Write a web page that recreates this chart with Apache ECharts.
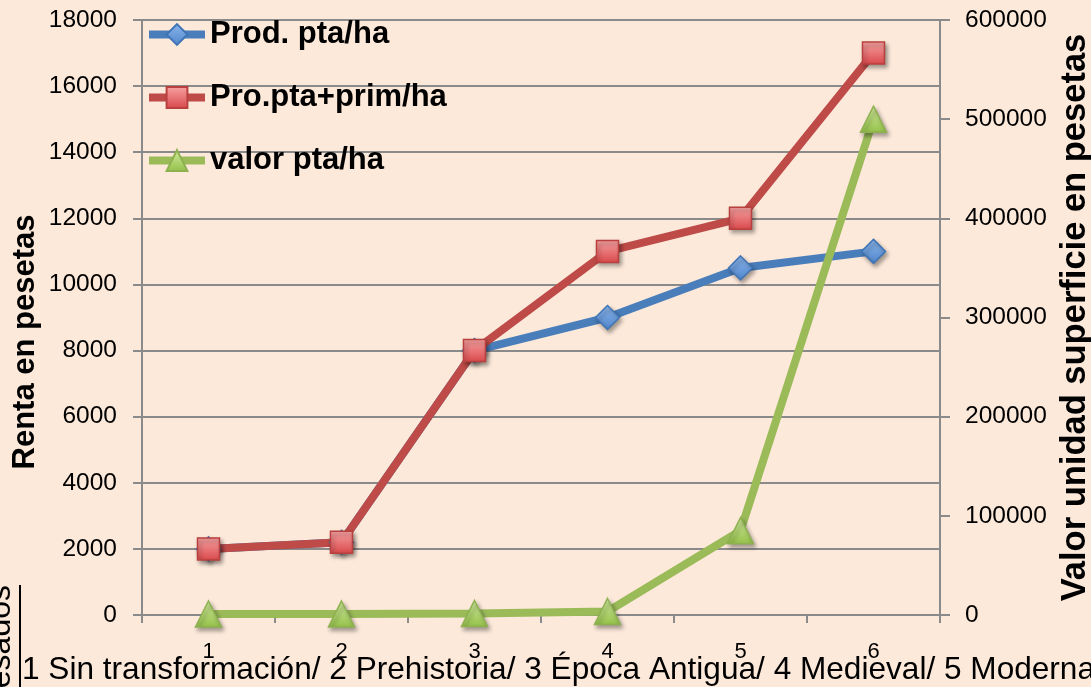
<!DOCTYPE html>
<html>
<head>
<meta charset="utf-8">
<script src="https://cdn.jsdelivr.net/npm/echarts@6/dist/echarts.min.js"></script>
<style>
html,body{margin:0;padding:0;background:#FCE9DA;}
#c{width:1091px;height:687px;}
</style>
</head>
<body>
<div id="c"></div>
<script>
const categories = ['1', '2', '3', '4', '5', '6'];
const prodPta = [2000, 2200, 8000, 9000, 10500, 11000];
const prodPrim = [2000, 2200, 8000, 11000, 12000, 17000];
const valorPta = [1000, 1000, 1500, 3500, 85000, 500000];
const seriesNames = ['Prod. pta/ha', 'Pro.pta+prim/ha', 'valor pta/ha'];
const leftTitle = 'Renta en pesetas';
const rightTitle = 'Valor unidad superficie en pesetas';
const bottomNote = '1 Sin transformación/ 2 Prehistoria/ 3 Época Antigua/ 4 Medieval/ 5 Moderna';
const sideNote = 'pesados';

const chart = echarts.init(document.getElementById('c'));
const axisGray = '#8A8A8A';
const tickFont = {fontFamily: 'Liberation Sans', fontSize: 24.5, color: '#000', formatter: v => String(v)};
const shadow = {shadowBlur: 4, shadowOffsetX: 2, shadowOffsetY: 3, shadowColor: 'rgba(0,0,0,0.35)'};

function grad(top, bottom) {
  return new echarts.graphic.LinearGradient(0, 0, 0, 1, [{offset: 0, color: top}, {offset: 1, color: bottom}]);
}

chart.setOption({
  backgroundColor: '#FCE9DA',
  animation: false,
  grid: {left: 142, right: 151, top: 20, bottom: 72, containLabel: false, outerBoundsMode: 'none'},
  legend: {
    orient: 'vertical', left: 145, top: 19, padding: 0,
    itemWidth: 56, itemHeight: 26, itemGap: 32,
    lineStyle: {width: 8},
    textStyle: {fontFamily: 'Liberation Sans', fontWeight: 'bold', fontSize: 31, color: '#000'},
    data: seriesNames
  },
  xAxis: {
    type: 'category', data: categories, boundaryGap: true,
    axisLine: {lineStyle: {color: axisGray, width: 2}},
    axisTick: {show: true, length: 8, lineStyle: {color: axisGray, width: 2}},
    axisLabel: {fontFamily: 'Liberation Sans', fontSize: 22, color: '#000', margin: 26}
  },
  yAxis: [{
    type: 'value', min: 0, max: 18000, interval: 2000,
    axisLine: {show: true, lineStyle: {color: axisGray, width: 2}},
    axisTick: {show: true, length: 9, lineStyle: {color: axisGray, width: 2}},
    axisLabel: Object.assign({margin: 25}, tickFont),
    splitLine: {show: true, lineStyle: {color: axisGray, width: 2}}
  }, {
    type: 'value', min: 0, max: 600000, interval: 100000, position: 'right',
    name: rightTitle, nameLocation: 'middle', nameGap: 116,
    nameTextStyle: {fontFamily: 'Liberation Sans', fontWeight: 'bold', fontSize: 34.5, color: '#000'},
    axisLine: {show: true, lineStyle: {color: axisGray, width: 2}},
    axisTick: {show: true, length: 10, lineStyle: {color: axisGray, width: 2}},
    axisLabel: Object.assign({margin: 25}, tickFont),
    splitLine: {show: false}
  }],
  series: [{
    name: seriesNames[0], type: 'line', yAxisIndex: 0, data: prodPta,
    symbol: 'diamond', symbolSize: 24,
    lineStyle: {color: '#4A7EBB', width: 8},
    itemStyle: Object.assign({color: grad('#8DB6EC', '#4F86CC'), borderColor: '#3F74B5', borderWidth: 1.5}, shadow)
  }, {
    name: seriesNames[1], type: 'line', yAxisIndex: 0, data: prodPrim,
    symbol: 'rect', symbolSize: 22,
    lineStyle: {color: '#BE4B48', width: 8},
    itemStyle: Object.assign({color: grad('#F7A3A3', '#D9474A'), borderColor: '#B8403E', borderWidth: 1.5}, shadow)
  }, {
    name: seriesNames[2], type: 'line', yAxisIndex: 1, data: valorPta,
    symbol: 'triangle', symbolSize: 26,
    lineStyle: {color: '#9BBB59', width: 8},
    itemStyle: Object.assign({color: grad('#D2EB9E', '#94C049'), borderColor: '#8DB150', borderWidth: 1.5}, shadow)
  }],
  graphic: [{
    type: 'text', x: 25, y: 342, rotation: Math.PI / 2,
    style: {text: leftTitle, fontFamily: 'Liberation Sans', fontWeight: 'bold', fontSize: 31, fill: '#000', align: 'center', verticalAlign: 'middle'}
  }, {
    type: 'text', left: 22, top: 654,
    style: {text: bottomNote, fontFamily: 'Liberation Sans', fontSize: 31.6, fill: '#000'}
  }, {
    type: 'text', x: 17, y: 585, rotation: Math.PI / 2,
    style: {text: sideNote, fontFamily: 'Liberation Sans', fontSize: 32, fill: '#000', align: 'right', verticalAlign: 'bottom'}
  }, {
    type: 'line', shape: {x1: 20, y1: 585, x2: 20, y2: 690},
    style: {stroke: '#000', lineWidth: 2}
  }]
});
</script>
</body>
</html>
